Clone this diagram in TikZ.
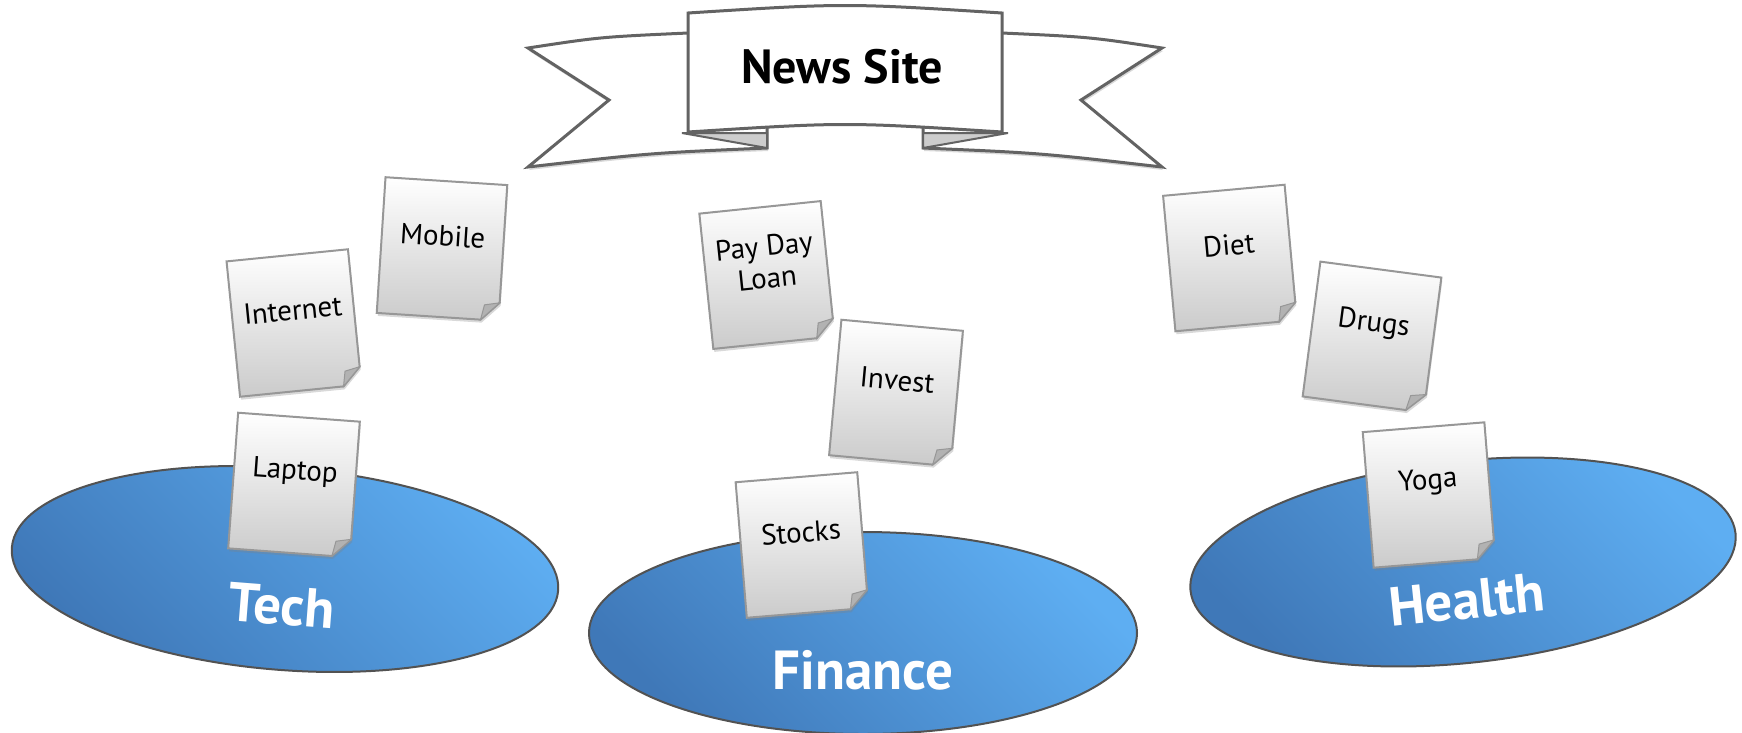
\documentclass[tikz,border=0pt]{standalone}
\usepackage{fontspec}
\setmainfont{PT Sans}
\usetikzlibrary{positioning}
\usetikzlibrary{calc}
\usetikzlibrary{shapes.geometric,shadows}

\definecolor{paperedge}{HTML}{979797}
\definecolor{paperlow}{HTML}{CBCBCB}
\definecolor{foldgray}{HTML}{B2B2B2}
\definecolor{bluelight}{HTML}{5EAEF2}
\definecolor{bluedark}{HTML}{3F78B8}
\definecolor{ribbonedge}{HTML}{636363}
\definecolor{ribbonfold}{HTML}{CDCDCD}

\begin{document}
\begin{tikzpicture}[x=1pt,y=-1pt,
	ribbon/.style={draw=ribbonedge,line width=3pt,fill=white,line join=miter},
	papershadow/.style={drop shadow={opacity=.3,shadow xshift=1pt,shadow yshift=-3pt}},
	doctext/.style={align=center,font=\fontsize{29}{32}\selectfont},
	topic/.style={ellipse,minimum width=548pt,minimum height=202pt,inner sep=0pt,draw=black!68,line width=2pt,top color=bluelight,bottom color=bluedark,shading angle=-45},
	topictext/.style={text=white,font=\bfseries\fontsize{55}{60}\selectfont,inner sep=0pt},
	docpaper/.pic={
		\draw[draw=paperedge,line width=2pt,top color=white,bottom color=paperlow,papershadow] (-61,-68) -- (61,-68) -- (61,50) -- (43,68) -- (-61,68) -- cycle;
		\draw[draw=paperedge,line width=1pt,fill=foldgray] (61,50) -- (43,68) -- (46,53) -- cycle;
		\node[doctext,transform shape,inner sep=1pt] (-label) at (0,-13) {#1};
	}]
	\useasboundingbox (0,0) rectangle (1742,732);
	% banner
	\draw[ribbon,papershadow] (688,33) .. controls (600,37) .. (528,48) -- (609,100) -- (528,167) .. controls (650,153) .. (767,148) -- (767,100) -- cycle;
	\draw[ribbon,papershadow] (1002,33) .. controls (1090,37) .. (1162,48) -- (1081,100) -- (1162,167) .. controls (1040,153) .. (923,148) -- (923,100) -- cycle;
	\draw[ribbon,fill=ribbonfold,line width=2pt] (682,133) -- (767,133) -- (767,148) -- cycle;
	\draw[ribbon,fill=ribbonfold,line width=2pt] (1008,133) -- (923,133) -- (923,148) -- cycle;
	\draw[ribbon] (688,13) .. controls (845,3) .. (1002,13) -- (1002,132) .. controls (845,122) .. (688,132) -- cycle;
	\node[font=\bfseries\fontsize{48}{52}\selectfont] (newssite) at (842,67) {News Site};
	% topics
	\node[topic,rotate=-4.5] (tech) at (285,569) {};
	\node[topic] (finance) at (863,633) {};
	\node[topic,rotate=6] (health) at (1463,562) {};
	\node[topictext,rotate=-4.5] (techtext) at ($(tech.center)!37pt!(tech.south)$) {Tech};
	\node[topictext] (financetext) at ($(finance.center)!37pt!(finance.south)$) {Finance};
	\node[topictext,rotate=6] (healthtext) at ($(health.center)!38pt!(health.south)$) {Health};
	% articles
	\pic[rotate=5.7] (internet) at (294,323) {docpaper=Internet};
	\pic[rotate=-3.7] (mobile) at (442,249) {docpaper=Mobile};
	\pic[rotate=-4.2] (laptop) at (294,485) {docpaper=Laptop};
	\pic[rotate=5.9] (paydayloan) at (767,275) {docpaper={Pay Day\\Loan}};
	\pic[rotate=-5.2] (invest) at (896,393) {docpaper=Invest};
	\pic[rotate=4.7] (stocks) at (802,545) {docpaper=Stocks};
	\pic[rotate=5.2] (diet) at (1230,258) {docpaper=Diet};
	\pic[rotate=-7.5] (drugs) at (1372,337) {docpaper=Drugs};
	\pic[rotate=4.6] (yoga) at (1429,495) {docpaper=Yoga};
\end{tikzpicture}
\end{document}
